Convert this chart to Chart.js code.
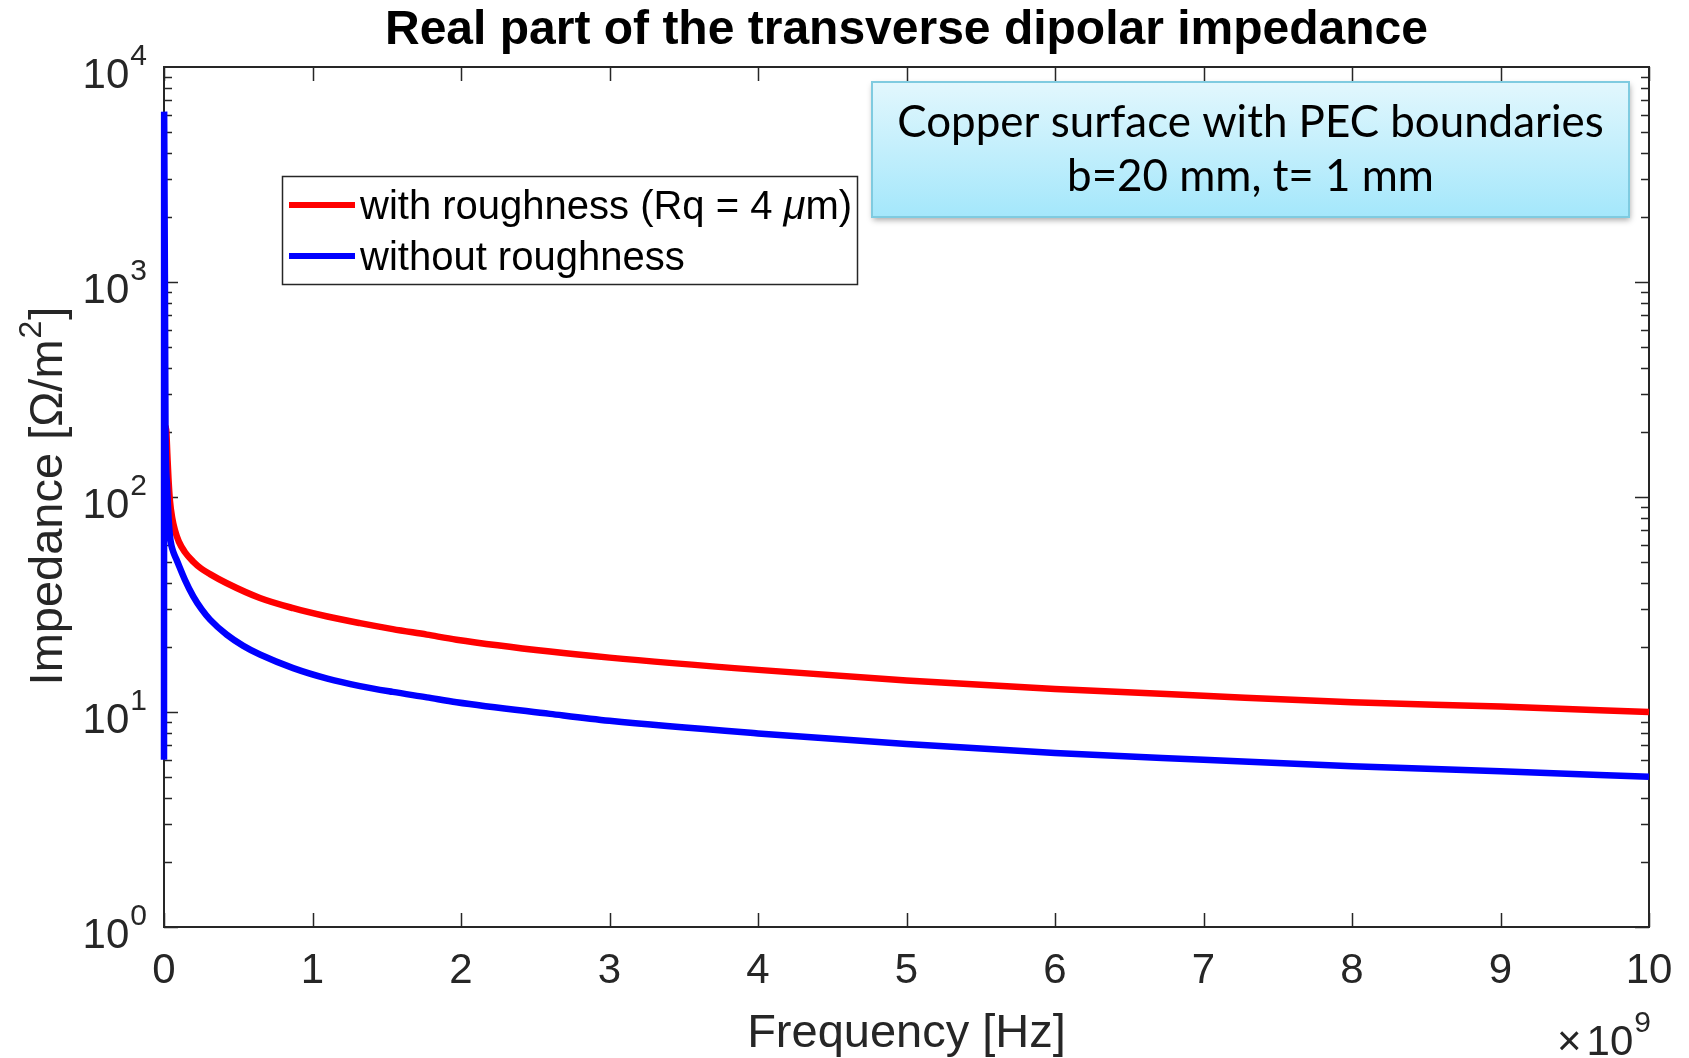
<!DOCTYPE html>
<html lang="en">
<head>
<meta charset="UTF-8">
<title>Real part of the transverse dipolar impedance</title>
<script src="https://cdn.jsdelivr.net/npm/chart.js"></script>
<style>
  html, body { margin: 0; padding: 0; background: #fff; }
  #caja { width: 1689px; height: 1058px; }
</style>
</head>
<body>
<div id="caja"><canvas id="grafico" width="1689" height="1058"></canvas></div>
<script>
// frequencies in units of 1e9 Hz, impedance in Ohm/m^2
const freqRough = [0.005, 0.015, 0.022, 0.03, 0.04, 0.055, 0.074, 0.1, 0.14, 0.197, 0.25, 0.31, 0.42, 0.646, 0.87, 1.1, 1.32, 1.54, 1.77, 1.97, 2.6, 3, 4, 5, 6, 7, 8, 9, 10];
const zRough    = [215, 205, 160, 122, 96, 80, 70, 62, 55.5, 50, 46.5, 43.8, 39.8, 33.9, 30.4, 27.8, 25.9, 24.3, 22.9, 21.7, 19.1, 17.9, 15.7, 14.0, 12.8, 11.9, 11.1, 10.6, 10.0];

const freqSmooth = [0, 0.001, 0.01, 0.02, 0.029, 0.04, 0.05, 0.065, 0.085, 0.141, 0.197, 0.254, 0.31, 0.422, 0.534, 0.646, 0.87, 1.1, 1.32, 1.54, 1.77, 1.97, 2.6, 3, 4, 5, 6, 7, 8, 9, 10];
const zSmooth    = [6.0, 6200, 205, 115, 84, 66, 59.5, 55, 51, 41.2, 34.5, 30, 26.9, 22.9, 20.3, 18.5, 16, 14.3, 13.2, 12.4, 11.7, 11.1, 9.8, 9.1, 7.95, 7.1, 6.45, 6.0, 5.6, 5.3, 5.0];

const xTicks = [0, 1, 2, 3, 4, 5, 6, 7, 8, 9, 10];
const yTicks = [1, 10, 100, 1000, 10000];
const yExps = ['0', '1', '2', '3', '4'];

const seriesNames = ['with roughness (Rq = 4 ', 'without roughness'];
const seriesColors = ['#ff0000', '#0000ff'];
const titulo = 'Real part of the transverse dipolar impedance';
const notaLineas = ['Copper surface with PEC boundaries', 'b=20 mm, t= 1 mm'];

const FUENTE = '"Liberation Sans", Arial, Helvetica, sans-serif';

function aPuntos(xs, ys) {
  return xs.map((x, i) => ({ x: x, y: ys[i] }));
}

const marco = {
  id: 'marco',
  beforeDatasetsDraw(chart) {
    const { ctx, chartArea: a, scales } = chart;
    ctx.save();
    ctx.strokeStyle = '#262626';
    ctx.lineWidth = 1.5;
    // ticks hacia dentro, en los cuatro lados
    xTicks.forEach(v => {
      const px = Math.round(scales.x.getPixelForValue(v)) + 0.5;
      ctx.beginPath();
      ctx.moveTo(px, a.bottom); ctx.lineTo(px, a.bottom - 14);
      ctx.moveTo(px, a.top); ctx.lineTo(px, a.top + 14);
      ctx.stroke();
    });
    for (let k = 0; k < 4; k++) {
      for (let m = 1; m <= 9; m++) {
        const py = Math.round(scales.y.getPixelForValue(m * Math.pow(10, k))) + 0.5;
        const len = m === 1 ? 14 : 8;
        ctx.beginPath();
        ctx.moveTo(a.left, py); ctx.lineTo(a.left + len, py);
        ctx.moveTo(a.right, py); ctx.lineTo(a.right - len, py);
        ctx.stroke();
      }
    }
    ctx.lineWidth = 2;
    ctx.strokeRect(a.left, a.top, a.right - a.left, a.bottom - a.top);
    ctx.restore();
  },
  afterDraw(chart) {
    const { ctx, chartArea: a, scales } = chart;
    const cx = (a.left + a.right) / 2;
    ctx.save();
    ctx.fillStyle = '#262626';

    // etiquetas eje x
    ctx.font = '42px ' + FUENTE;
    ctx.textAlign = 'center';
    ctx.textBaseline = 'middle';
    xTicks.forEach(v => {
      ctx.fillText(String(v), scales.x.getPixelForValue(v), 971);
    });

    // etiquetas eje y: 10 con exponente
    yTicks.forEach((v, i) => {
      const py = scales.y.getPixelForValue(v);
      ctx.font = '30px ' + FUENTE;
      const we = ctx.measureText(yExps[i]).width;
      const xe = 147 - we;
      ctx.textAlign = 'left';
      ctx.textBaseline = 'middle';
      ctx.fillText(yExps[i], xe, py - 10);
      ctx.font = '42px ' + FUENTE;
      ctx.textAlign = 'right';
      ctx.fillText('10', xe - 1, py + 9);
    });

    // titulo de eje x y multiplicador
    ctx.font = '47px ' + FUENTE;
    ctx.textAlign = 'center';
    ctx.textBaseline = 'alphabetic';
    ctx.fillText('Frequency [Hz]', cx, 1047);

    ctx.textAlign = 'left';
    ctx.font = '30px ' + FUENTE;
    const w9 = ctx.measureText('9').width;
    const x9 = a.right - w9 + 2;
    ctx.fillText('9', x9, 1032);
    ctx.font = '42px ' + FUENTE;
    const w10 = ctx.measureText('10').width;
    ctx.fillText('10', x9 - w10 - 1, 1055);
    const wx = ctx.measureText('\u00d7').width;
    ctx.fillText('\u00d7', x9 - w10 - wx - 6, 1055);

    // titulo de eje y (rotado)
    ctx.save();
    ctx.translate(62, 497);
    ctx.rotate(-Math.PI / 2);
    ctx.font = '47px ' + FUENTE;
    const p1 = 'Impedance [\u03a9/m';
    const w1 = ctx.measureText(p1).width;
    ctx.font = '32px ' + FUENTE;
    const w2 = ctx.measureText('2').width;
    ctx.font = '47px ' + FUENTE;
    const w3 = ctx.measureText(']').width;
    let x0 = -(w1 + w2 + w3) / 2;
    ctx.textAlign = 'left';
    ctx.fillText(p1, x0, 0);
    ctx.font = '32px ' + FUENTE;
    ctx.fillText('2', x0 + w1 + 1, -21);
    ctx.font = '47px ' + FUENTE;
    ctx.fillText(']', x0 + w1 + w2 + 2, 0);
    ctx.restore();

    // titulo
    ctx.fillStyle = '#000';
    ctx.font = 'bold 48px ' + FUENTE;
    ctx.textAlign = 'center';
    ctx.fillText(titulo, cx, 44);

    // leyenda
    ctx.fillStyle = '#fff';
    ctx.fillRect(282, 176, 575, 108);
    ctx.strokeStyle = '#262626';
    ctx.lineWidth = 1.5;
    ctx.strokeRect(282.5, 176.5, 575, 108);
    const filas = [205, 256];
    filas.forEach((y, i) => {
      ctx.strokeStyle = seriesColors[i];
      ctx.lineWidth = 6;
      ctx.beginPath();
      ctx.moveTo(289, y); ctx.lineTo(355, y);
      ctx.stroke();
      ctx.fillStyle = '#000';
      ctx.font = '40px ' + FUENTE;
      ctx.textAlign = 'left';
      ctx.textBaseline = 'alphabetic';
      ctx.fillText(seriesNames[i], 360, y + 14);
      if (i === 0) {
        let xx = 360 + ctx.measureText(seriesNames[i]).width;
        ctx.font = 'italic 40px ' + FUENTE;
        ctx.fillText('\u03bc', xx, y + 14);
        xx += ctx.measureText('\u03bc').width;
        ctx.font = '40px ' + FUENTE;
        ctx.fillText('m)', xx, y + 14);
      }
    });

    // recuadro de nota
    const bx = 872, by = 82, bw = 757, bh = 135;
    ctx.save();
    ctx.shadowColor = 'rgba(0,0,0,0.35)';
    ctx.shadowBlur = 6;
    ctx.shadowOffsetX = 1;
    ctx.shadowOffsetY = 3;
    const grad = ctx.createLinearGradient(0, by, 0, by + bh);
    grad.addColorStop(0, '#e2f7fd');
    grad.addColorStop(1, '#a4e7fb');
    ctx.fillStyle = grad;
    ctx.fillRect(bx, by, bw, bh);
    ctx.restore();
    ctx.strokeStyle = '#7fcbe0';
    ctx.lineWidth = 2;
    ctx.strokeRect(bx, by, bw, bh);
    ctx.fillStyle = '#000';
    ctx.textAlign = 'center';
    ctx.font = '40px Lato, "Open Sans", sans-serif';
    const ajuste = 707 / ctx.measureText(notaLineas[0]).width;
    ctx.font = (40 * ajuste).toFixed(1) + 'px Lato, "Open Sans", sans-serif';
    ctx.fillText(notaLineas[0], bx + bw / 2, 137);
    ctx.fillText(notaLineas[1], bx + bw / 2, 191);

    ctx.restore();
  }
};

new Chart(document.getElementById('grafico'), {
  type: 'line',
  data: {
    datasets: [
      {
        label: seriesNames[0] + '\u03bcm)',
        data: aPuntos(freqRough, zRough),
        borderColor: seriesColors[0],
        borderWidth: 6.5,
        pointRadius: 0,
        cubicInterpolationMode: 'monotone',
        fill: false,
        clip: 8,
        order: 1
      },
      {
        label: seriesNames[1],
        data: aPuntos(freqSmooth, zSmooth),
        borderColor: seriesColors[1],
        borderWidth: 6.5,
        pointRadius: 0,
        cubicInterpolationMode: 'monotone',
        fill: false,
        clip: 8,
        order: 0
      }
    ]
  },
  options: {
    responsive: false,
    animation: false,
    layout: { padding: { left: 164, top: 67, right: 40, bottom: 131 } },
    scales: {
      x: { type: 'linear', min: 0, max: 10, display: false },
      y: { type: 'logarithmic', min: 1, max: 10000, display: false }
    },
    plugins: {
      legend: { display: false },
      tooltip: { enabled: false },
      title: { display: false }
    }
  },
  plugins: [marco]
});
</script>
</body>
</html>
